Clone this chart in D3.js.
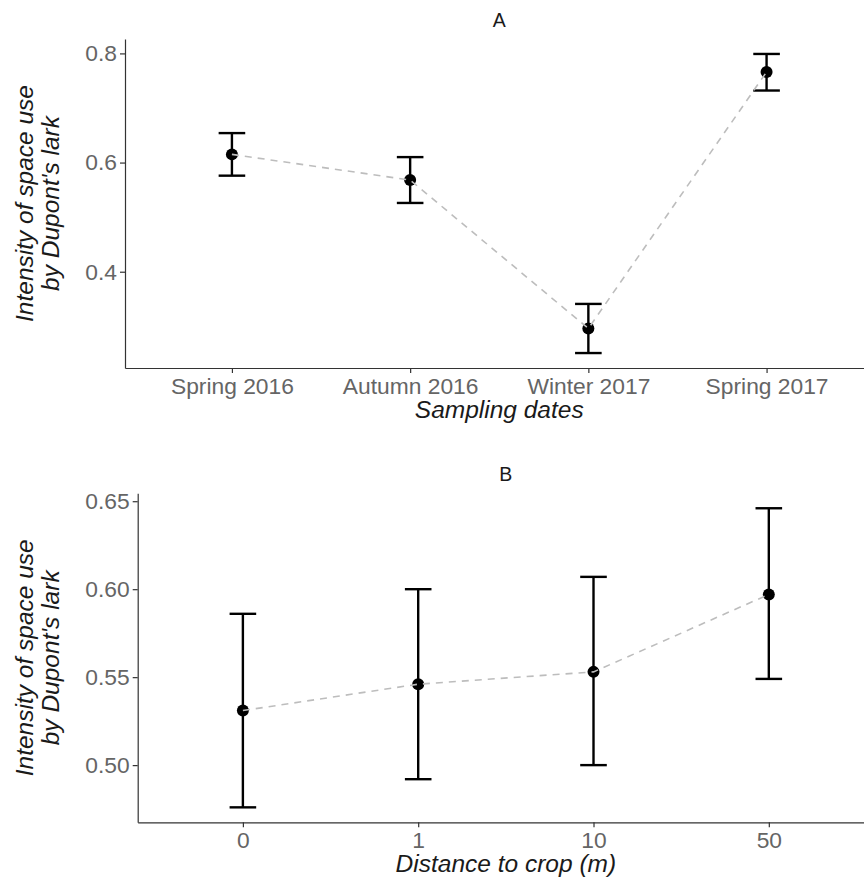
<!DOCTYPE html>
<html>
<head>
<meta charset="utf-8">
<script src="https://cdn.jsdelivr.net/npm/d3@7"></script>
<style>
  body { margin: 0; background: #fff; }
  svg { display: block; font-family: "Liberation Sans", Arial, sans-serif; }
  .tick text { fill: #656565; font-size: 22.8px; }
  .domain, .tick line { stroke: #333; stroke-width: 1.2px; }
  .ttl { font-style: italic; fill: #1a1a1a; font-size: 24.5px; }
  .ptitle { fill: #1a1a1a; font-size: 19.5px; }
</style>
</head>
<body>
<div id="c"></div>
<script>
// panel A: season
var seasons = ['Spring 2016', 'Autumn 2016', 'Winter 2017', 'Spring 2017'];
var seasonMean = [0.615, 0.568, 0.296, 0.766];
var seasonLow  = [0.576, 0.526, 0.251, 0.732];
var seasonHigh = [0.654, 0.610, 0.341, 0.799];
var seasonTicks = [0.4, 0.6, 0.8];

// panel B: distance to crop
var dists = ['0', '1', '10', '50'];
var distMean = [0.531, 0.546, 0.553, 0.597];
var distLow  = [0.476, 0.492, 0.500, 0.549];
var distHigh = [0.586, 0.600, 0.607, 0.646];
var distTicks = [0.50, 0.55, 0.60, 0.65];

var width = 864, height = 879;

var svg = d3.select('#c').append('svg')
	.attr('width', width)
	.attr('height', height);

function panel(opt) {
	var rows = opt.cats.map(function(c, i) {
		return { cat: c, m: opt.mean[i], lo: opt.low[i], hi: opt.high[i] };
	});

	var x = d3.scalePoint()
		.domain(opt.cats)
		.range([opt.left, opt.right])
		.padding(0.6);

	// ggplot style 5% expansion
	var lo = d3.min(rows, function(d) { return d.lo; });
	var hi = d3.max(rows, function(d) { return d.hi; });
	var pad = (hi - lo) * 0.05;
	var y = d3.scaleLinear()
		.domain([lo - pad, hi + pad])
		.range([opt.bottom, opt.top]);

	var g = svg.append('g');

	g.append('g')
		.attr('transform', 'translate(' + opt.left + ',0)')
		.call(d3.axisLeft(y).tickValues(opt.ticks).tickFormat(d3.format(opt.fmt))
			.tickSize(5).tickSizeOuter(0).tickPadding(3));

	g.append('g')
		.attr('transform', 'translate(0,' + opt.bottom + ')')
		.call(d3.axisBottom(x).tickSize(5).tickSizeOuter(0).tickPadding(5));

	g.selectAll('.tick text').attr('font-family', null);

	// error bars
	var eb = g.append('g').attr('stroke', '#000').attr('stroke-width', 2.4);
	rows.forEach(function(d) {
		var cx = x(d.cat);
		eb.append('line').attr('x1', cx).attr('x2', cx).attr('y1', y(d.lo)).attr('y2', y(d.hi));
		eb.append('line').attr('x1', cx - 13.3).attr('x2', cx + 13.3).attr('y1', y(d.lo)).attr('y2', y(d.lo));
		eb.append('line').attr('x1', cx - 13.3).attr('x2', cx + 13.3).attr('y1', y(d.hi)).attr('y2', y(d.hi));
	});

	g.selectAll('circle.pt')
		.data(rows)
		.enter()
		.append('circle')
		.attr('class', 'pt')
		.attr('cx', function(d) { return x(d.cat); })
		.attr('cy', function(d) { return y(d.m); })
		.attr('r', 6)
		.attr('fill', '#000');

	var line = d3.line()
		.x(function(d) { return x(d.cat); })
		.y(function(d) { return y(d.m); });

	g.append('path')
		.datum(rows)
		.attr('d', line)
		.attr('fill', 'none')
		.attr('stroke', '#bdbdbd')
		.attr('stroke-width', 1.6)
		.attr('stroke-dasharray', '7,6');

	// titles
	var cx = (opt.left + opt.right) / 2;
	g.append('text')
		.attr('class', 'ptitle')
		.attr('text-anchor', 'middle')
		.attr('x', cx)
		.attr('y', opt.titleY)
		.text(opt.title);

	g.append('text')
		.attr('class', 'ttl')
		.attr('text-anchor', 'middle')
		.attr('x', cx)
		.attr('y', opt.bottom + 50)
		.text(opt.xlab);

	var cy = (opt.top + opt.bottom) / 2;
	var yl = g.append('text')
		.attr('class', 'ttl')
		.attr('text-anchor', 'middle')
		.attr('transform', 'translate(33,' + cy + ') rotate(-90)');
	yl.append('tspan').attr('x', 0).attr('y', 0).text('Intensity of space use');
	yl.append('tspan').attr('x', 0).attr('y', 25.5).text("by Dupont's lark");
}

panel({
	cats: seasons, mean: seasonMean, low: seasonLow, high: seasonHigh,
	ticks: seasonTicks, fmt: '.1f',
	left: 125, right: 873.5, top: 39, bottom: 368,
	title: 'A', titleY: 26.5, xlab: 'Sampling dates'
});

panel({
	cats: dists, mean: distMean, low: distLow, high: distHigh,
	ticks: distTicks, fmt: '.2f',
	left: 137.7, right: 874, top: 493.3, bottom: 822.3,
	title: 'B', titleY: 481, xlab: 'Distance to crop (m)'
});
</script>
</body>
</html>
